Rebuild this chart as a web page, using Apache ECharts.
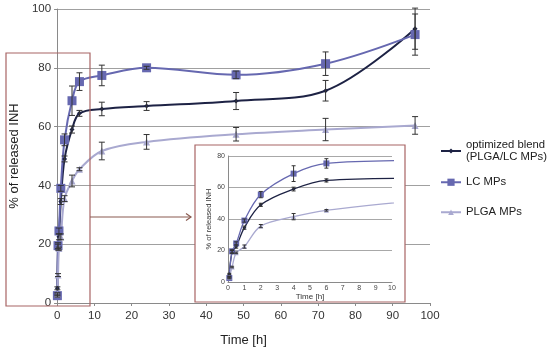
<!DOCTYPE html>
<html><head><meta charset="utf-8">
<script src="https://cdn.jsdelivr.net/npm/echarts@6/dist/echarts.min.js"></script>
<style>html,body{margin:0;padding:0;background:#fff}#c{width:550px;height:352px}</style>
</head><body><div id="c"></div>
<script>
// ---- data ----
const times    = [0.08, 0.25, 0.5, 1, 2, 4, 6, 12, 24, 48, 72, 96];
const blend    = [5, 19, 22.5, 34.5, 49, 59, 64.5, 66, 67, 68.7, 72.2, 93.3];
const blendErr = [0.5, 1, 1, 1, 1, 1.2, 1, 2.3, 1.5, 2.9, 3.5, 7];
const lcMPs    = [2.5, 19.5, 24.5, 39, 55.5, 68.8, 75.3, 77.4, 80, 77.6, 81.4, 91.3];
const lcErr    = [0.5, 1, 1, 1, 2, 5, 3, 3.5, 0.5, 1.3, 4, 7];
const plgaMPs  = [3, 9.5, 18.5, 22.5, 35.5, 41.5, 45.5, 51.7, 54.8, 57.4, 59, 60.4];
const plgaErr  = [0.5, 0.5, 0.5, 1, 1, 2, 0.5, 3, 2.5, 2.3, 3.8, 3];
const seriesNames = ['optimized blend (PLGA/LC MPs)', 'LC MPs', 'PLGA MPs'];
const legendLabels = ['optimized blend\n(PLGA/LC MPs)', 'LC MPs', 'PLGA MPs'];
const mainXTicks  = [0, 10, 20, 30, 40, 50, 60, 70, 80, 90, 100];
const mainYTicks  = [0, 20, 40, 60, 80, 100];
const insetXTicks = [0, 1, 2, 3, 4, 5, 6, 7, 8, 9, 10];
const insetYTicks = [0, 20, 40, 60, 80];

const FONT = '"Liberation Sans", Arial, sans-serif';
const colors = ['#1d2244', '#6668b0', '#a9a9d0'];
const symbols = ['diamond', 'rect', 'triangle'];
const values = [blend, lcMPs, plgaMPs];
const errs = [blendErr, lcErr, plgaErr];

const pairs = v => times.map((t, i) => [t, v[i]]);
const triples = (v, e) => times.map((t, i) => [t, v[i], e[i]]);

function errRender(capW, xMax) {
  return function (params, api) {
    const x = api.value(0), y = api.value(1), e = api.value(2);
    if (x > xMax) return null;
    const lo = api.coord([x, y - e]), hi = api.coord([x, y + e]);
    const st = { stroke: '#333', lineWidth: 1 };
    return { type: 'group', children: [
      { type: 'line', shape: { x1: lo[0], y1: lo[1], x2: hi[0], y2: hi[1] }, style: st },
      { type: 'line', shape: { x1: lo[0] - capW, y1: lo[1], x2: lo[0] + capW, y2: lo[1] }, style: st },
      { type: 'line', shape: { x1: hi[0] - capW, y1: hi[1], x2: hi[0] + capW, y2: hi[1] }, style: st }
    ]};
  };
}

const mainSizes = [5, 9, 7];
const insetSizes = [4, 6, 5];
const series = [];
for (let k = 0; k < 3; k++) {
  series.push({
    name: seriesNames[k], type: 'line', xAxisIndex: 0, yAxisIndex: 0,
    data: pairs(values[k]), smooth: 0.35, symbol: symbols[k], symbolSize: mainSizes[k],
    lineStyle: { color: colors[k], width: 2 }, itemStyle: { color: colors[k] },
    z: 3, animation: false
  });
  series.push({
    type: 'custom', xAxisIndex: 0, yAxisIndex: 0, data: triples(values[k], errs[k]),
    encode: { x: 0, y: 1 }, renderItem: errRender(3, 100), z: 4, animation: false, silent: true
  });
}
for (let k = 0; k < 3; k++) {
  series.push({
    name: seriesNames[k], type: 'line', xAxisIndex: 1, yAxisIndex: 1,
    data: pairs(values[k]), smooth: 0.35, symbol: symbols[k], symbolSize: insetSizes[k],
    lineStyle: { color: colors[k], width: 1.3 }, itemStyle: { color: colors[k] },
    clip: true, z: 13, animation: false
  });
  series.push({
    type: 'custom', xAxisIndex: 1, yAxisIndex: 1, data: triples(values[k], errs[k]),
    encode: { x: 0, y: 1 }, renderItem: errRender(2, 10), z: 14, animation: false, silent: true
  });
}

const axisLineGray = { lineStyle: { color: '#8a8a8a', width: 1 } };
const splitGray = { show: true, lineStyle: { color: '#a0a0a0', width: 1 } };

const legendTops = [138.5, 176, 206];
const legendHeights = [6, 9, 7];
const legends = [0, 1, 2].map(k => ({
  data: [seriesNames[k]], left: 440, top: legendTops[k], padding: 0,
  itemWidth: 20, itemHeight: legendHeights[k], selectedMode: false,
  formatter: () => legendLabels[k],
  textStyle: { fontFamily: FONT, fontSize: 11.3, lineHeight: 12.5, color: '#222' }
}));

const option = {
  backgroundColor: '#fff',
  animation: false,
  textStyle: { fontFamily: FONT },
  legend: legends,
  grid: [
    { left: 52, right: 120, top: 9, bottom: 46, containLabel: false },
    { left: 228, top: 156, width: 164, height: 126, containLabel: false, z: 11 }
  ],
  xAxis: [
    { type: 'value', gridIndex: 0, min: mainXTicks[0], max: mainXTicks[mainXTicks.length - 1],
      interval: mainXTicks[1] - mainXTicks[0],
      axisLine: axisLineGray, axisTick: { show: true, length: 3, lineStyle: { color: '#8a8a8a' } },
      splitLine: { show: false },
      axisLabel: { fontFamily: FONT, fontSize: 11.5, color: '#333', margin: 7 },
      name: 'Time [h]', nameLocation: 'middle', nameGap: 31,
      nameTextStyle: { fontFamily: FONT, fontSize: 13, color: '#222' } },
    { type: 'value', gridIndex: 1, min: insetXTicks[0], max: insetXTicks[insetXTicks.length - 1],
      interval: 1, z: 12,
      axisLine: axisLineGray, axisTick: { show: false }, splitLine: { show: false },
      axisLabel: { fontFamily: FONT, fontSize: 7, color: '#444', margin: 3 },
      name: 'Time [h]', nameLocation: 'middle', nameGap: 10,
      nameTextStyle: { fontFamily: FONT, fontSize: 8, color: '#333' } }
  ],
  yAxis: [
    { type: 'value', gridIndex: 0, min: mainYTicks[0], max: mainYTicks[mainYTicks.length - 1],
      interval: mainYTicks[1] - mainYTicks[0],
      axisLine: { show: true, lineStyle: { color: '#8a8a8a' } },
      axisTick: { show: true, length: 3, lineStyle: { color: '#8a8a8a' } },
      splitLine: splitGray,
      axisLabel: { fontFamily: FONT, fontSize: 11.5, color: '#333', margin: 6 },
      name: '% of released INH', nameLocation: 'middle', nameGap: 23,
      nameTextStyle: { fontFamily: FONT, fontSize: 13, color: '#222' } },
    { type: 'value', gridIndex: 1, min: insetYTicks[0], max: insetYTicks[insetYTicks.length - 1],
      interval: 20, z: 12,
      axisLine: { show: true, lineStyle: { color: '#8a8a8a' } }, axisTick: { show: false },
      splitLine: { show: true, lineStyle: { color: '#a8a8a8', width: 1 } },
      axisLabel: { fontFamily: FONT, fontSize: 7, color: '#444', margin: 3 },
      name: '% of released INH', nameLocation: 'middle', nameGap: 14,
      nameTextStyle: { fontFamily: FONT, fontSize: 7.5, color: '#333' } }
  ],
  graphic: [
    { type: 'rect', z: 10, shape: { x: 195, y: 145, width: 210, height: 157 },
      style: { fill: '#fff', stroke: '#a86464', lineWidth: 1.2 } },
    { type: 'rect', z: 10, shape: { x: 6, y: 53, width: 84, height: 253 },
      style: { fill: 'none', stroke: '#a86464', lineWidth: 1.2 } },
    { type: 'line', z: 10, shape: { x1: 90, y1: 217, x2: 191, y2: 217 },
      style: { stroke: '#8a5a50', lineWidth: 1.2 } },
    { type: 'polyline', z: 10, shape: { points: [[186, 213.5], [191, 217], [186, 220.5]] },
      style: { stroke: '#8a5a50', lineWidth: 1.2, fill: 'none' } }
  ],
  series: series
};
const chart = echarts.init(document.getElementById('c'), null, { renderer: 'canvas' });
chart.setOption(option);
</script></body></html>
